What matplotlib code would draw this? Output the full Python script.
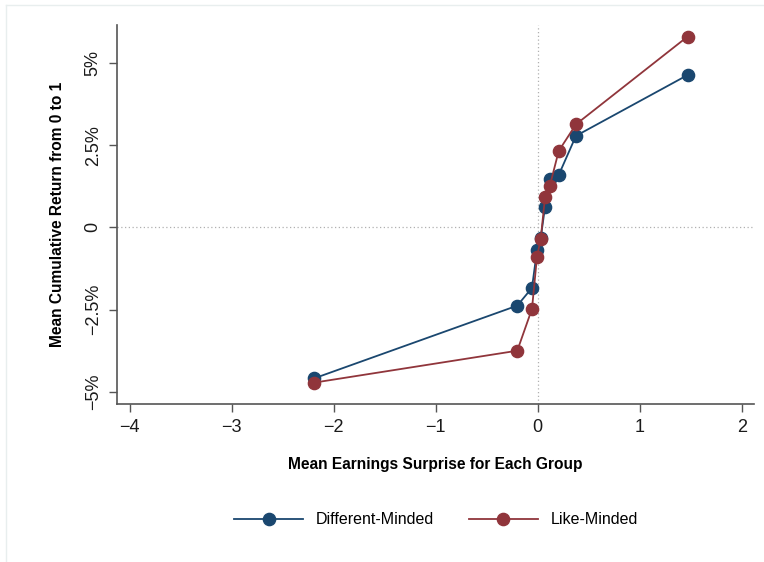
import matplotlib
matplotlib.use("Agg")
import matplotlib.pyplot as plt
from matplotlib.lines import Line2D

plt.rcParams['font.family'] = ['Liberation Sans', 'DejaVu Sans']

# Data (mean earnings surprise, mean cumulative return in %)
diff_x = [-2.19, -0.20, -0.056, -0.007, 0.03, 0.072, 0.118, 0.206, 0.375, 1.47]
diff_y = [-4.59, -2.38, -1.84, -0.70, -0.32, 0.62, 1.48, 1.59, 2.78, 4.63]
like_x = [-2.19, -0.20, -0.056, -0.007, 0.03, 0.072, 0.118, 0.206, 0.375, 1.47]
like_y = [-4.72, -3.75, -2.48, -0.90, -0.34, 0.92, 1.25, 2.32, 3.13, 5.80]

x_ticks = [-4, -3, -2, -1, 0, 1, 2]
y_ticks = [-5, -2.5, 0, 2.5, 5]
y_ticklabels = ['\u22125%', '\u22122.5%', '0', '2.5%', '5%']

blue = '#1a476f'
red = '#90353b'

fig = plt.figure(figsize=(7.64, 5.62), dpi=100)
ax = fig.add_axes([117/764, 1-404/562, (754-117)/764, (404-25)/562])

ax.axvline(0, color='#b0b0b0', lw=0.9, ls=(0, (1, 2)), zorder=1)
ax.axhline(0, color='#b0b0b0', lw=0.9, ls=(0, (1, 2)), zorder=1)

ax.plot(diff_x, diff_y, color=blue, lw=1.3, marker='o', ms=8.8, mec=blue, mfc=blue, zorder=3)
ax.plot(like_x, like_y, color=red, lw=1.3, marker='o', ms=8.8, mec=red, mfc=red, zorder=4)

ax.set_xlim(-4.123, 2.12)
ax.set_ylim(-5.37, 6.15)
ax.set_xticks(x_ticks)
ax.set_xticklabels(['\u22124', '\u22123', '\u22122', '\u22121', '0', '1', '2'], fontsize=13)
ax.set_yticks(y_ticks)
ax.set_yticklabels(y_ticklabels, fontsize=13, rotation=90, va='center')
ax.tick_params(axis='both', direction='out', length=6, width=1, color='#555555', labelcolor='#1a1a1a')
ax.tick_params(axis='x', pad=5)
ax.tick_params(axis='y', pad=5)

for s in ['top', 'right']:
    ax.spines[s].set_visible(False)
for s in ['left', 'bottom']:
    ax.spines[s].set_color('#555555')
    ax.spines[s].set_linewidth(1.2)

ax.set_xlabel('Mean Earnings Surprise for Each Group', fontsize=11.2, fontweight='bold', labelpad=15)
ax.set_ylabel('Mean Cumulative Return from 0 to 1', fontsize=11.2, fontweight='bold', labelpad=14)

handles = [Line2D([], [], color=blue, lw=1.3, marker='o', ms=8.8),
           Line2D([], [], color=red, lw=1.3, marker='o', ms=8.8)]
fig.legend(handles, ['Different-Minded', 'Like-Minded'], loc='center',
           bbox_to_anchor=(436/764, 1-520/562), ncol=2, frameon=False,
           fontsize=11.5, handlelength=4.3, columnspacing=2.2, handletextpad=0.8)

# faint outer frame
fig.add_artist(Line2D([6/764, 1], [1-5/562, 1-5/562], color='#e8eeee', lw=1))
fig.add_artist(Line2D([6/764, 6/764], [0, 1-5/562], color='#e8eeee', lw=1))

fig.savefig('out.png', dpi=100)
